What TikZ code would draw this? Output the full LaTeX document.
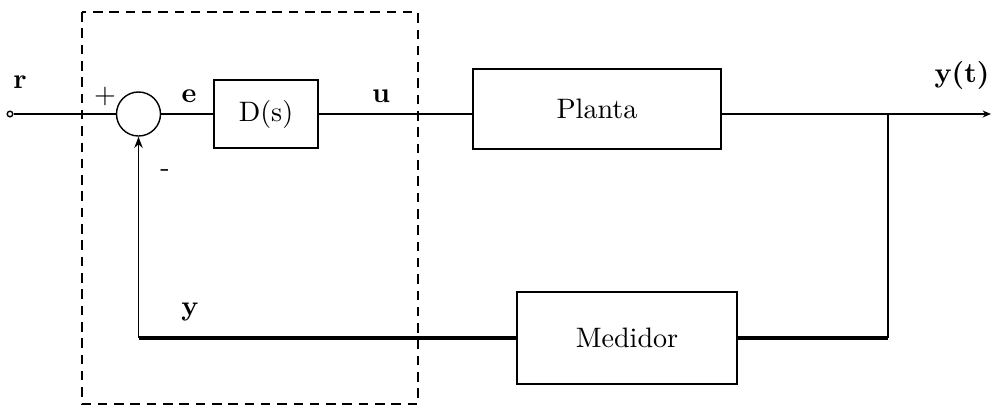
\documentclass[tikz,border=0pt]{standalone}
\usetikzlibrary{arrows.meta}
\begin{document}
\begin{tikzpicture}[x=0.0125cm,y=-0.0125cm]
  % Define styles for blocks and signals
  \tikzstyle{block} = [draw, rectangle, line width=0.75pt, fill=white]
  \tikzstyle{sumnode} = [draw, circle, line width=0.5pt, minimum size=0.55cm, inner sep=0pt]
  \tikzstyle{signal} = [line width=0.55pt]
  \tikzstyle{fbline} = [line width=1.1pt]
  \tikzstyle{lbl} = [font=\bfseries, inner sep=1pt]

  \useasboundingbox (0,0) rectangle (992,408);

  % Controller area
  \draw[line width=0.9pt, dash pattern=on 3.4pt off 2.4pt] (82,12) rectangle (418,404);

  % Blocks of the loop
  \node(rin)[draw, circle, line width=0.5pt, minimum size=0.07cm, inner sep=0pt] at (10,114) {};
  \node(sum)[sumnode] at (138.5,114) {};
  \node(ds)[block, minimum width=1.3cm, minimum height=0.85cm] at (266,114) {D(s)};
  \node(planta)[block, minimum width=3.1cm, minimum height=0.99cm] at (597,109) {Planta};
  \node(medidor)[block, minimum width=2.75cm, minimum height=1.14cm] at (627,338) {Medidor};
  \coordinate (branch) at (888,114);
  \coordinate (bcorner) at (888,338);
  \coordinate (yout) at (991,114);
  \coordinate (fbc) at (138.5,338);

  % Signals
  \draw[signal] (rin) -- (sum);
  \draw[signal] (sum) -- (ds);
  \draw[signal] (ds) -- (ds.east -| planta.west);
  \draw[signal, -{Stealth[length=3pt,width=2.5pt]}] (planta.east |- ds.east) -- (yout);
  \draw[signal] (branch) -- (bcorner);
  \draw[fbline] (bcorner) -- (medidor);
  \draw[fbline] (medidor) -- (fbc);
  \draw[signal, -{Stealth[length=4pt,width=3pt]}] (fbc) -- (sum);

  % Labels
  \node(lr)[lbl] at (20,82) {r};
  \node(lplus) at (105,96) {+};
  \node(le)[lbl] at (189,96) {e};
  \node(lu)[lbl] at (381,96) {u};
  \node(lminus) at (165,173) {-};
  \node(ly)[lbl] at (190,312) {y};
  \node(lyt)[lbl] at (962,75) {y(t)};
\end{tikzpicture}
\end{document}
